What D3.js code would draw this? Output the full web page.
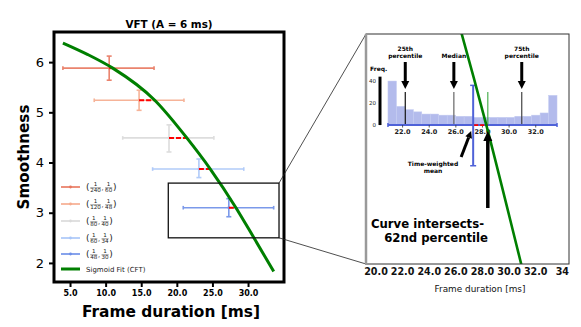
<!DOCTYPE html>
<html>
<head>
<meta charset="utf-8">
<script src="https://cdn.jsdelivr.net/npm/d3@7"></script>
<style>
  body { margin: 0; background: #fff; }
  text { font-family: "DejaVu Sans", sans-serif; }
</style>
</head>
<body>
<script>
// ---- data ----
var groupLabels = [["1", "240", "1", "60"], ["1", "120", "1", "48"], ["1", "80", "1", "40"], ["1", "60", "1", "34"], ["1", "48", "1", "30"]];
var groupColors = ["#e8765e", "#f6ab8d", "#dadada", "#a9c6f9", "#6d8fe8"];
var meanX  = [10.5, 14.7, 18.9, 23.1, 27.3];   // time-weighted mean frame duration
var meanY  = [5.88, 5.24, 4.49, 3.87, 3.10];   // smoothness
var xLow   = [4.0, 8.4, 12.4, 16.6, 20.9];
var xHigh  = [16.8, 21.0, 25.2, 29.4, 33.6];
var yLow   = [5.64, 5.04, 4.21, 3.70, 2.92];
var yHigh  = [6.12, 5.44, 4.75, 4.07, 3.28];
var crossX = [11.0, 16.9, 21.4, 24.7, 28.3];   // where the fit meets each smoothness level

var fitX = [4.0, 7.5, 11.0, 16.9, 21.4, 24.7, 28.3, 30.7, 33.6];
var fitY = [6.38, 6.15, 5.88, 5.24, 4.49, 3.87, 3.10, 2.53, 1.83];

var xTicks = [5, 10, 15, 20, 25, 30];
var yTicks = [2, 3, 4, 5, 6];
var zoomBoxX = [18.8, 34.35];
var zoomBoxY = [2.5, 3.59];

// inset: frame durations of the 1/48..1/30 group
var histEdges = [20.9, 21.54, 22.17, 22.81, 23.44, 24.08, 24.71, 25.35, 25.98, 26.62, 27.25,
                 27.89, 28.52, 29.16, 29.79, 30.43, 31.06, 31.7, 32.33, 32.97, 33.6];
var histCounts = [40, 17, 14, 12, 10, 10, 9, 9, 8, 8, 7, 7, 7, 7, 7, 8, 8, 9, 11, 27];
var pctNames  = [["25th", "percentile"], ["Median"], ["75th", "percentile"]];
var pctValues = [22.2, 25.85, 30.95];
var pctColors = ["#111", "#666", "#444"];
var pct62 = 28.4;
var histTicks = [22, 24, 26, 28, 30, 32];
var freqTicks = [0, 20, 40];
var insetTicks = [20, 22, 24, 26, 28, 30, 32, 34];
var insetTickLabels = ["20.0", "22.0", "24.0", "26.0", "28.0", "30.0", "32.0", "34"];

var W = 581, H = 327;
var svg = d3.select("body").append("svg").attr("width", W).attr("height", H);

// ---- main panel ----
var x = d3.scaleLinear().domain([2.75, 35.05]).range([54, 284]);
var y = d3.scaleLinear().domain([1.62, 6.6]).range([282, 32]);

var main = svg.append("g");

// error bars
meanX.forEach(function(mx, i) {
  var g = main.append("g").attr("stroke", groupColors[i]).attr("stroke-width", 1.6).attr("opacity", 0.9);
  g.append("line").attr("x1", x(xLow[i])).attr("x2", x(xHigh[i])).attr("y1", y(meanY[i])).attr("y2", y(meanY[i]));
  [xLow[i], xHigh[i]].forEach(function(v) {
    g.append("line").attr("x1", x(v)).attr("x2", x(v)).attr("y1", y(meanY[i]) - 1.8).attr("y2", y(meanY[i]) + 1.8);
  });
  g.append("line").attr("x1", x(mx)).attr("x2", x(mx)).attr("y1", y(yLow[i])).attr("y2", y(yHigh[i]));
  [yLow[i], yHigh[i]].forEach(function(v) {
    g.append("line").attr("x1", x(mx) - 2.5).attr("x2", x(mx) + 2.5).attr("y1", y(v)).attr("y2", y(v));
  });
  g.append("circle").attr("cx", x(mx)).attr("cy", y(meanY[i])).attr("r", 1.4).attr("fill", groupColors[i]).attr("stroke", "none");
});

// red dashes from mean to curve
main.selectAll(".gap").data(meanX).enter().append("line")
  .attr("x1", function(d) { return x(d); })
  .attr("x2", function(d, i) { return x(crossX[i]); })
  .attr("y1", function(d, i) { return y(meanY[i]); })
  .attr("y2", function(d, i) { return y(meanY[i]); })
  .attr("stroke", "red").attr("stroke-width", 2).attr("stroke-dasharray", "5,2");

var fitPts = fitX.map(function(v, i) { return [v, fitY[i]]; });
var fitLine = d3.line().x(function(d) { return x(d[0]); }).y(function(d) { return y(d[1]); }).curve(d3.curveMonotoneX);
main.append("path").attr("d", fitLine(fitPts)).attr("fill", "none").attr("stroke", "#007f00").attr("stroke-width", 3);

// zoom box
main.append("rect")
  .attr("x", x(zoomBoxX[0])).attr("y", y(zoomBoxY[1]))
  .attr("width", x(zoomBoxX[1]) - x(zoomBoxX[0])).attr("height", y(zoomBoxY[0]) - y(zoomBoxY[1]))
  .attr("fill", "none").attr("stroke", "#111").attr("stroke-width", 1.3);

// axes
var xAxis = main.append("g").attr("transform", "translate(0,282)")
  .call(d3.axisBottom(x).tickValues(xTicks).tickFormat(d3.format(".1f")).tickSize(5).tickSizeOuter(0));
xAxis.select(".domain").remove();
xAxis.selectAll("line").attr("stroke-width", 2);
xAxis.selectAll("text").attr("font-size", 8).attr("font-weight", "bold").attr("font-family", "DejaVu Sans").attr("dy", "0.9em").attr("y", 7);

var yAxis = main.append("g").attr("transform", "translate(54,0)")
  .call(d3.axisLeft(y).tickValues(yTicks).tickFormat(d3.format("d")).tickSize(5).tickSizeOuter(0));
yAxis.select(".domain").remove();
yAxis.selectAll("line").attr("stroke-width", 2);
yAxis.selectAll("text").attr("font-size", 13).attr("font-family", "DejaVu Sans").attr("x", -10);

main.append("rect").attr("x", 54).attr("y", 32).attr("width", 230).attr("height", 250)
  .attr("fill", "none").attr("stroke", "#000").attr("stroke-width", 3);

main.append("text").attr("x", 169).attr("y", 28).attr("text-anchor", "middle")
  .attr("font-size", 10.4).attr("font-weight", "bold").text("VFT (A = 6 ms)");
main.append("text").attr("x", 171).attr("y", 317).attr("text-anchor", "middle")
  .attr("font-size", 15.4).attr("font-weight", "bold").text("Frame duration [ms]");
main.append("text").attr("transform", "translate(29,157) rotate(-90)").attr("text-anchor", "middle")
  .attr("font-size", 15.2).attr("font-weight", "bold").text("Smoothness");

// legend
var legRows = [187, 204, 221, 238, 254, 269];
function drawFrac(g, cx, ry, num, den) {
  var n = g.append("text").attr("y", ry - 0.7).attr("font-size", 5.6).attr("text-anchor", "middle").text(num);
  var d = g.append("text").attr("y", ry + 5).attr("font-size", 5.6).attr("text-anchor", "middle").text(den);
  var w = Math.max(n.node().getComputedTextLength(), d.node().getComputedTextLength());
  n.attr("x", cx + w / 2); d.attr("x", cx + w / 2);
  g.append("line").attr("x1", cx).attr("x2", cx + w).attr("y1", ry + 0.8).attr("y2", ry + 0.8)
    .attr("stroke", "#222").attr("stroke-width", 0.45);
  return w;
}
groupLabels.forEach(function(lab, i) {
  var ry = legRows[i];
  var g = main.append("g").attr("fill", "#222");
  g.append("line").attr("x1", 61).attr("x2", 80).attr("y1", ry).attr("y2", ry)
    .attr("stroke", groupColors[i]).attr("stroke-width", 1.8).attr("opacity", 0.9);
  g.append("circle").attr("cx", 70.5).attr("cy", ry).attr("r", 1.4).attr("fill", groupColors[i]);
  var cx = 86;
  var p = g.append("text").attr("x", cx).attr("y", ry + 2.8).attr("font-size", 9).text("(");
  cx += p.node().getComputedTextLength() + 0.7;
  cx += drawFrac(g, cx, ry, lab[0], lab[1]) + 0.7;
  var c = g.append("text").attr("x", cx).attr("y", ry + 2.8).attr("font-size", 6.5).text(",");
  cx += c.node().getComputedTextLength() + 1.4;
  cx += drawFrac(g, cx, ry, lab[2], lab[3]) + 0.7;
  g.append("text").attr("x", cx).attr("y", ry + 2.8).attr("font-size", 9).text(")");
});
main.append("line").attr("x1", 61).attr("x2", 80).attr("y1", legRows[5]).attr("y2", legRows[5])
  .attr("stroke", "#007f00").attr("stroke-width", 3);
main.append("text").attr("x", 86).attr("y", legRows[5] + 2.6).attr("font-size", 7).attr("fill", "#222").text("Sigmoid Fit (CFT)");

// ---- inset ----
var xi = d3.scaleLinear().domain([19.25, 34.5]).range([366, 569]);
var yi = d3.scaleLinear().domain([2.48, 3.51]).range([264, 34]);
var fq = d3.scaleLinear().domain([0, 40]).range([yi(meanY[4]) - 0.5, yi(meanY[4]) - 44.5]);
var base = fq(0);

// connector lines
svg.append("line").attr("x1", x(zoomBoxX[1])).attr("y1", y(zoomBoxY[1])).attr("x2", 366).attr("y2", 34)
  .attr("stroke", "#222").attr("stroke-width", 0.8);
svg.append("line").attr("x1", x(zoomBoxX[1])).attr("y1", y(zoomBoxY[0])).attr("x2", 366).attr("y2", 264)
  .attr("stroke", "#222").attr("stroke-width", 0.8);

var inset = svg.append("g");
inset.append("rect").attr("x", 366).attr("y", 34).attr("width", 203).attr("height", 230).attr("fill", "#fff");
inset.append("defs").append("clipPath").attr("id", "insetClip")
  .append("rect").attr("x", 366).attr("y", 34).attr("width", 203).attr("height", 230);

// histogram
inset.selectAll(".bar").data(histCounts).enter().append("rect")
  .attr("x", function(d, i) { return xi(histEdges[i]); })
  .attr("width", function(d, i) { return xi(histEdges[i + 1]) - xi(histEdges[i]); })
  .attr("y", function(d) { return fq(d); })
  .attr("height", function(d) { return base - fq(d); })
  .attr("fill", "#b3bbec").attr("stroke", "#c4cbf1").attr("stroke-width", 0.5);

// percentile lines
pctValues.forEach(function(v, i) {
  inset.append("line").attr("x1", xi(v)).attr("x2", xi(v)).attr("y1", fq(30)).attr("y2", base)
    .attr("stroke", pctColors[i]).attr("stroke-width", 1.2);
});
inset.append("line").attr("x1", xi(pct62)).attr("x2", xi(pct62)).attr("y1", fq(30)).attr("y2", base)
  .attr("stroke", "#4caf50").attr("stroke-width", 1.2);

// histogram axis = x error bar of last group
var blue = "#4f62d8";
inset.append("line").attr("x1", xi(xLow[4])).attr("x2", xi(xHigh[4])).attr("y1", base).attr("y2", base)
  .attr("stroke", blue).attr("stroke-width", 2);
[xLow[4], xHigh[4]].forEach(function(v) {
  inset.append("line").attr("x1", xi(v)).attr("x2", xi(v)).attr("y1", base - 2).attr("y2", base + 2)
    .attr("stroke", blue).attr("stroke-width", 1.5);
});
histTicks.forEach(function(t) {
  inset.append("line").attr("x1", xi(t)).attr("x2", xi(t)).attr("y1", base).attr("y2", base + 2.5)
    .attr("stroke", "#333").attr("stroke-width", 0.8);
  inset.append("text").attr("x", xi(t)).attr("y", base + 9).attr("text-anchor", "middle")
    .attr("font-size", 6.5).attr("font-weight", "bold").attr("fill", "#222").text(d3.format(".1f")(t));
});

// frequency axis
inset.append("line").attr("x1", 380).attr("x2", 380).attr("y1", fq(44)).attr("y2", fq(0))
  .attr("stroke", "#000").attr("stroke-width", 3);
freqTicks.forEach(function(t) {
  inset.append("text").attr("x", 376).attr("y", fq(t) + 2).attr("text-anchor", "end")
    .attr("font-size", 5.5).attr("fill", "#222").text(t);
});
inset.append("text").attr("x", 370).attr("y", 71).attr("font-size", 6).attr("font-weight", "bold").text("Freq.");

// vertical error bar of last group
inset.append("line").attr("x1", xi(meanX[4])).attr("x2", xi(meanX[4])).attr("y1", yi(yLow[4])).attr("y2", yi(yHigh[4]))
  .attr("stroke", blue).attr("stroke-width", 2);
[yLow[4], yHigh[4]].forEach(function(v) {
  inset.append("line").attr("x1", xi(meanX[4]) - 3).attr("x2", xi(meanX[4]) + 3).attr("y1", yi(v)).attr("y2", yi(v))
    .attr("stroke", blue).attr("stroke-width", 1.5);
});

// red dash mean -> intersection
inset.append("line").attr("x1", xi(meanX[4]) + 1).attr("x2", xi(pct62)).attr("y1", base).attr("y2", base)
  .attr("stroke", "red").attr("stroke-width", 1.8).attr("stroke-dasharray", "4,2");

// fit curve zoomed
var fitLineI = d3.line().x(function(d) { return xi(d[0]); }).y(function(d) { return yi(d[1]); }).curve(d3.curveMonotoneX);
inset.append("path").attr("d", fitLineI(fitPts)).attr("clip-path", "url(#insetClip)")
  .attr("fill", "none").attr("stroke", "#007f00").attr("stroke-width", 2.6);

// arrows
function arrow(g, x1, y1, x2, y2, w, hw, hl) {
  var dx = x2 - x1, dy = y2 - y1, len = Math.hypot(dx, dy), ux = dx / len, uy = dy / len;
  var bx = x2 - ux * hl, by = y2 - uy * hl;
  g.append("line").attr("x1", x1).attr("y1", y1).attr("x2", bx).attr("y2", by)
    .attr("stroke", "#000").attr("stroke-width", w);
  g.append("polygon").attr("fill", "#000")
    .attr("points", [[x2, y2], [bx - uy * hw / 2, by + ux * hw / 2], [bx + uy * hw / 2, by - ux * hw / 2]].join(" "));
}
pctValues.forEach(function(v, i) {
  arrow(inset, xi(v), 62, xi(v), 89, 3, 8, 8);
  var names = pctNames[i];
  names.forEach(function(s, k) {
    inset.append("text").attr("x", xi(v)).attr("y", 58 - (names.length - 1 - k) * 7)
      .attr("text-anchor", "middle").attr("font-size", 6).attr("font-weight", "bold").text(s);
  });
});
arrow(inset, xi(meanX[4]) - 12, 157, xi(meanX[4]) - 2, 131, 3, 7, 7);
inset.append("text").attr("x", 433).attr("y", 166).attr("text-anchor", "middle")
  .attr("font-size", 6).attr("font-weight", "bold").text("Time-weighted");
inset.append("text").attr("x", 433).attr("y", 173).attr("text-anchor", "middle")
  .attr("font-size", 6).attr("font-weight", "bold").text("mean");

arrow(inset, xi(pct62), 208, xi(pct62), 131, 3.5, 9, 10);
inset.append("text").attr("x", 484).attr("y", 228).attr("text-anchor", "end")
  .attr("font-size", 11.7).attr("font-weight", "bold").text("Curve intersects-");
inset.append("text").attr("x", 488).attr("y", 242).attr("text-anchor", "end")
  .attr("font-size", 11.7).attr("font-weight", "bold").text("62nd percentile");

// inset frame
inset.append("rect").attr("x", 366).attr("y", 34).attr("width", 203).attr("height", 230)
  .attr("fill", "none").attr("stroke", "#333").attr("stroke-width", 1);
inset.append("line").attr("x1", 366).attr("x2", 366).attr("y1", 34).attr("y2", 264)
  .attr("stroke", "#9a9a9a").attr("stroke-width", 2.5);

// inset bottom axis
insetTicks.forEach(function(t, i) {
  inset.append("text").attr("x", xi(t)).attr("y", 275).attr("text-anchor", "middle")
    .attr("font-size", 9.6).attr("font-weight", "bold").attr("fill", "#111").text(insetTickLabels[i]);
});
inset.append("text").attr("x", 480).attr("y", 292).attr("text-anchor", "middle")
  .attr("font-size", 8.9).attr("fill", "#111").text("Frame duration [ms]");
</script>
</body>
</html>
